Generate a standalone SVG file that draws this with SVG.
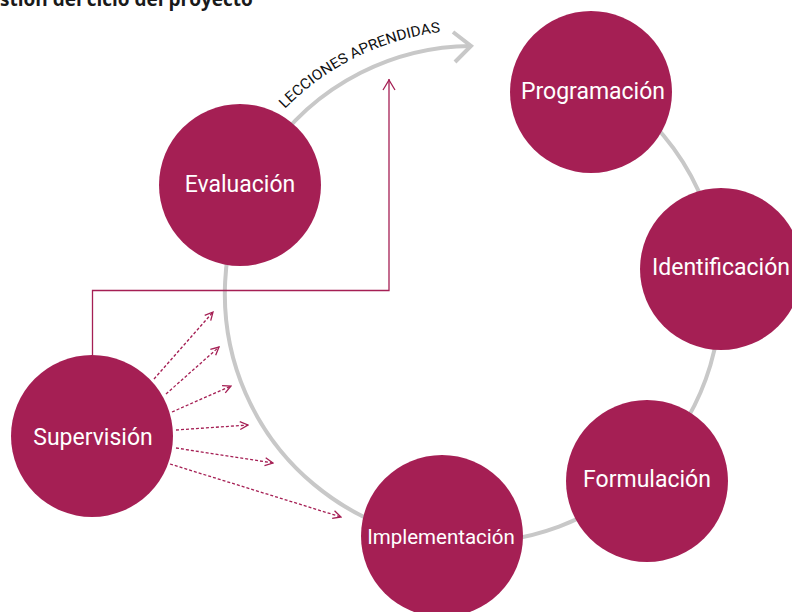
<svg xmlns="http://www.w3.org/2000/svg" width="792" height="612" viewBox="0 0 792 612">
<defs>
<style>
.node{fill:#a51f54}
.lbl{fill:#ffffff;font-family:Roboto,"Liberation Sans",sans-serif;font-size:23px;text-anchor:middle}
.ring{fill:none;stroke:#c8c8c8;stroke-width:4}
.sup{fill:none;stroke:#a51f54;stroke-width:1.3}
.dot{fill:none;stroke:#a51f54;stroke-width:1.3;stroke-dasharray:3 2}
</style>
<marker id="chev" viewBox="0 0 10 10" refX="9" refY="5" markerWidth="10" markerHeight="10" markerUnits="userSpaceOnUse" orient="auto">
<path d="M1 1 L9 5 L1 9" fill="none" stroke="#a51f54" stroke-width="1.3"/>
</marker>
<marker id="chev2" viewBox="0 0 14 14" refX="13" refY="7" markerWidth="14" markerHeight="14" markerUnits="userSpaceOnUse" orient="auto">
<path d="M2 1 L12 7 L2 13" fill="none" stroke="#a51f54" stroke-width="1.3"/>
</marker>
<path id="textarc" d="M 284.7 109 A 264 264 0 0 1 473 30"/>
</defs>
<rect width="792" height="612" fill="#ffffff"/>
<text x="0" y="6" font-family="'Open Sans','Noto Sans',sans-serif" font-weight="bold" font-size="19" fill="#1a1a1a">stión del ciclo del proyecto</text>
<g id="connectors">
<path class="ring" d="M 557.8 61 A 248 248 0 1 1 471 46"/>
<polyline class="ring" points="453,32 471,46 455,62"/>
<text font-family="Roboto,'Liberation Sans',sans-serif" font-size="14.5" fill="#111111"><textPath href="#textarc" textLength="177" lengthAdjust="spacingAndGlyphs">LECCIONES APRENDIDAS</textPath></text>
<polyline class="sup" points="92.5,355 92.5,290.5 389,290.5 389,79" marker-end="url(#chev2)"/>
<line class="dot" x1="154" y1="379" x2="213" y2="312" marker-end="url(#chev)"/>
<line class="dot" x1="166" y1="394" x2="219" y2="347" marker-end="url(#chev)"/>
<line class="dot" x1="172" y1="412" x2="231" y2="386" marker-end="url(#chev)"/>
<line class="dot" x1="176" y1="430" x2="248" y2="425" marker-end="url(#chev)"/>
<line class="dot" x1="176" y1="448" x2="273" y2="463" marker-end="url(#chev)"/>
<line class="dot" x1="170" y1="464" x2="341" y2="517" marker-end="url(#chev)"/>
</g>
<g id="programacion"><circle class="node" cx="591" cy="92" r="81"/><text class="lbl" x="593" y="99">Programación</text></g>
<g id="identificacion"><circle class="node" cx="721" cy="269" r="81"/><text class="lbl" x="721" y="275">Identificación</text></g>
<g id="formulacion"><circle class="node" cx="647" cy="481" r="81"/><text class="lbl" x="647" y="487">Formulación</text></g>
<g id="implementacion"><circle class="node" cx="442" cy="536" r="81"/><text class="lbl" x="441" y="544" style="font-size:20.5px">Implementación</text></g>
<g id="evaluacion"><circle class="node" cx="240" cy="185" r="81"/><text class="lbl" x="240" y="192">Evaluación</text></g>
<g id="supervision"><circle class="node" cx="92" cy="436" r="81"/><text class="lbl" x="93" y="445">Supervisión</text></g>
</svg>
